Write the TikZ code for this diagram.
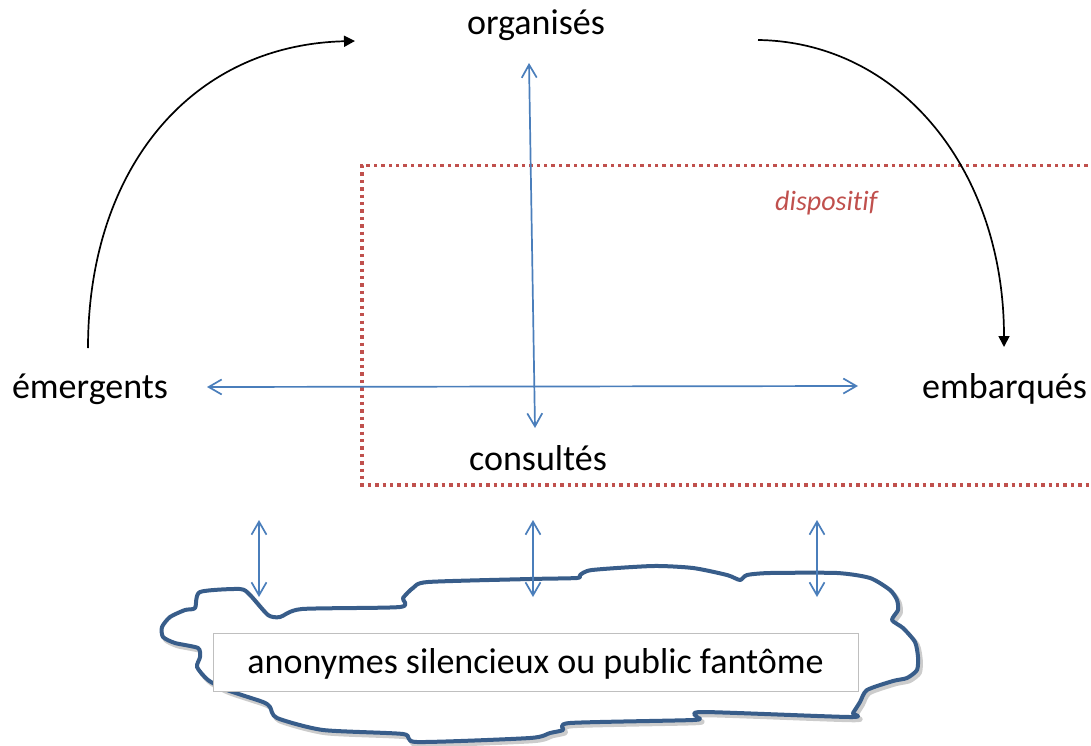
\documentclass[tikz,border=0pt]{standalone}
\usepackage{fontspec}
\setmainfont[Ligatures={NoCommon,NoDiscretionary}]{Carlito}
\newfontfamily\dispfont[Ligatures={NoCommon,NoDiscretionary}, Scale=1]{Carlito}
\usetikzlibrary{arrows.meta}
\definecolor{lineblue}{RGB}{74,126,187}
\definecolor{cloudblue}{RGB}{56,93,138}
\definecolor{dispred}{RGB}{192,80,77}
\definecolor{boxgray}{RGB}{191,191,191}
\begin{document}
\begin{tikzpicture}[x=1pt,y=-1pt,
  lbl/.style={font=\fontsize{36}{40}\selectfont, inner sep=0pt, anchor=base},
  biarrow/.style={draw=lineblue, line width=1.7pt,
    {Straight Barb[length=13pt,width=15pt]}-{Straight Barb[length=13pt,width=15pt]}},
  curvearrow/.style={draw=black, line width=1.7pt, -{Triangle[length=11pt,width=11pt]}},
  dotbox/.style={draw=dispred, line width=3.4pt, dash pattern=on 3.4pt off 4pt},
  cloudline/.style={draw=cloudblue, line width=4pt, line join=round, fill=white},
  cloudshadow/.style={draw=black, opacity=0.2, line width=4.5pt, line join=round},
  ]
\useasboundingbox (0,0) rectangle (1091,746);

% dispositif frame
\draw[dotbox] (1095,165.5) -- (362,165.5) -- (362,485) -- (1095,485);
\node[font=\dispfont\fontsize{28}{32}\selectfont\itshape, text=dispred, inner sep=0pt, anchor=base west]
  (dispositif) at (775,210) {dispos\kern0pt itif};

% labels
\node[lbl] (organises) at (536,35) {organisés};
\node[lbl] (emergents) at (90,398) {émergents};
\node[lbl, anchor=base west] (embarques) at (922,398) {embarqués};
\node[lbl] (consultes) at (538,470) {consultés};

% arrow end points
\coordinate (vtop) at (529,63);
\coordinate (vbot) at (535,428);
\coordinate (hleft) at (207,387);
\coordinate (hright) at (858,386);
\coordinate (lstart) at (88,348);
\coordinate (lend) at (355,41);
\coordinate (rstart) at (758,40);
\coordinate (rend) at (1004,347);

% blue cross arrows
\draw[biarrow] (vtop) -- (vbot);
\draw[biarrow] (hleft) -- (hright);

% black curved arrows
\draw[curvearrow] (lstart) .. controls (88,170) and (190,45) .. (lend);
\draw[curvearrow] (rstart) .. controls (900,42) and (1004,170) .. (rend);

% cloud
\def\cloudpts{(195,608) (200,592) (240,589) (250,595) (268,615) (280,617) (302,609)
  (400,607) (403,598) (413,588) (428,582) (530,579) (577,578) (580,575) (592,570)
  (653,566) (693,568) (727,575) (740,580) (747,575) (770,573) (837,573) (870,578)
  (890,590) (897,600) (898,610) (892,620) (903,628) (915,642) (918,657) (917,670)
  (907,678) (893,681) (867,690) (860,702) (853,713) (850,717) (703,712) (697,717)
  (693,720) (570,723) (563,730) (550,733) (530,738) (417,742) (403,734) (323,730)
  (277,718) (270,707) (263,702) (227,690) (208,680) (197,667) (200,657) (198,648)
  (175,643) (163,637) (162,627) (170,617) (185,610)}
\begin{scope}[shift={(2.5,3)}]
\draw[cloudshadow] plot[smooth cycle, tension=0.4] coordinates {\cloudpts};
\end{scope}
\draw[cloudline] plot[smooth cycle, tension=0.4] coordinates {\cloudpts};

% text box
\node[draw=boxgray, line width=1pt, fill=white, minimum width=645pt, minimum height=58pt,
  inner sep=0pt] (box) at (535.5,662) {};
\node[lbl] (public) at (535.5,673) {anonymes silencieux ou public fantôme};

% small arrows to the public
\coordinate (a1t) at (259,520); \coordinate (a1b) at (259,597);
\coordinate (a2t) at (533,520); \coordinate (a2b) at (533,597);
\coordinate (a3t) at (817,520); \coordinate (a3b) at (817,597);
\draw[biarrow] (a1t) -- (a1b);
\draw[biarrow] (a2t) -- (a2b);
\draw[biarrow] (a3t) -- (a3b);
\end{tikzpicture}
\end{document}
